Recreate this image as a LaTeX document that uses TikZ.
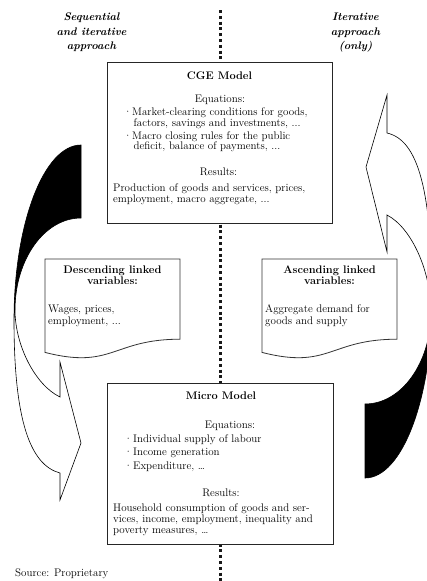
\documentclass[tikz,border=0pt]{standalone}
\begin{document}
\begin{tikzpicture}[x=1pt,y=-1pt,
  every node/.style={inner sep=0pt, font=\fontsize{11}{11}\selectfont},
  lt/.style={anchor=base west},
  ct/.style={anchor=base},
  ttl/.style={anchor=base, font=\fontsize{11}{11}\selectfont\bfseries},
  side/.style={anchor=base, font=\fontsize{11}{11}\selectfont\bfseries\itshape},
  bigbox/.style={draw=black!85, line width=1.1pt, fill=white, anchor=north west},
  arrowline/.style={draw=black, line width=0.6pt, fill=white, line join=miter},
  dotline/.style={line width=3pt, dash pattern=on 3pt off 2.8pt, black!90},
  docbox/.style={draw=black!80, line width=0.8pt, fill=white},
]
\useasboundingbox (0,0) rectangle (427,581);
\clip (0,0) rectangle (427,581);

% dotted divider
\coordinate (dtop) at (220,10);
\coordinate (dbot) at (220,584);
\draw[dotline] (dtop) -- (dbot);

% main boxes
\node[bigbox, minimum width=225pt, minimum height=161pt] (cge) at (107,62) {};
\node[bigbox, minimum width=226pt, minimum height=161pt] (micro) at (107,383) {};

% document boxes
\draw[docbox] (45,259) -- (180,259) -- (180,339.2)
  .. controls (112.5,339.2) and (112.5,369.7) .. (45,352.4) -- cycle;
\draw[docbox] (262,259) -- (397,259) -- (397,339.2)
  .. controls (329.5,339.2) and (329.5,369.7) .. (262,352.4) -- cycle;

% left curved arrow (down)
\path[arrowline] (81,145) .. controls (44,145) and (14,223.3) .. (14,320)
  .. controls (14,420) and (30,465) .. (60,473)
  -- (60,500) -- (81,443) -- (60,362) -- (60,397)
  .. controls (35,385) and (15,345) .. (15,310)
  .. controls (15,259.2) and (44.5,218) .. (81,218) -- cycle;
\fill[black] (81,145) .. controls (44,145) and (14,223.3) .. (14,320)
  -- (15,310) .. controls (15,259.2) and (44.5,218) .. (81,218) -- cycle;

% right curved arrow (up)
\path[arrowline] (365,404) -- (365,478)
  .. controls (402,478) and (432,399) .. (432,302)
  .. controls (432,190) and (418,140) .. (387,133)
  -- (387,95) -- (366,167) -- (387,252) -- (387,215)
  .. controls (412,228) and (431,272) .. (431,312)
  .. controls (431,362.8) and (401.5,404) .. (365,404) -- cycle;
\fill[black] (365,404) -- (365,478)
  .. controls (402,478) and (432,399) .. (432,302) -- (431,312)
  .. controls (431,362.8) and (401.5,404) .. (365,404) -- cycle;

% side titles
\node[side] (sl1) at (91.5,20.5) {Sequential};
\node[side] (sl2) at (91.5,35.5) {and iterative};
\node[side] (sl3) at (91.5,49.5) {approach};
\node[side] (sr1) at (355.5,20.5) {Iterative};
\node[side] (sr2) at (355.5,35.5) {approach};
\node[side] (sr3) at (355.5,49.5) {(only)};

% CGE box text
\node[ttl] (cget) at (219.5,79) {CGE Model};
\node[ct] (cgeeq) at (220,102) {Equations:};
\node[lt] (cgeb1) at (123.5,115.5) {\textperiodcentered};
\node[lt] (cgel1) at (132,115.5) {Market-clearing conditions for goods,};
\node[lt] (cgel2) at (133.5,126) {factors, savings and investments, ...};
\node[lt] (cgeb2) at (123.5,139.5) {\textperiodcentered};
\node[lt] (cgel3) at (132,139.5) {Macro closing rules for the public};
\node[lt] (cgel4) at (133.5,149.5) {deficit, balance of payments, ...};
\node[ct] (cgeres) at (218.5,175.5) {Results:};
\node[lt] (cgel5) at (113,191.5) {Production of goods and services, prices,};
\node[lt] (cgel6) at (113,202.5) {employment, macro aggregate, ...};

% document texts
\node[ttl] (dlt1) at (112.5,273) {Descending linked};
\node[ttl] (dlt2) at (112.5,284) {variables:};
\node[lt] (dl1) at (48,312.5) {Wages, prices,};
\node[lt] (dl2) at (48,324) {employment, ...};
\node[ttl] (alt1) at (329.5,273) {Ascending linked};
\node[ttl] (alt2) at (329.5,284) {variables:};
\node[lt] (al1) at (265,312.5) {Aggregate demand for};
\node[lt] (al2) at (265,324) {goods and supply};

% Micro box text
\node[ttl] (mt) at (221,399.5) {Micro Model};
\node[ct] (meq) at (230,428) {Equations:};
\node[lt] (mb1) at (124,442.5) {\textperiodcentered};
\node[lt] (ml1) at (133,442.5) {Individual supply of labour};
\node[lt] (mb2) at (124,455.5) {\textperiodcentered};
\node[lt] (ml2) at (133,455.5) {Income generation};
\node[lt] (mb3) at (124,469) {\textperiodcentered};
\node[lt] (ml3) at (133,469) {Expenditure, \dots};
\node[ct] (mres) at (221,496.5) {Results:};
\node[lt] (ml4) at (113,511) {Household consumption of goods and ser-};
\node[lt] (ml5) at (113,522) {vices, income, employment, inequality and};
\node[lt] (ml6) at (113,533.5) {poverty measures, \dots};

% source
\node[lt] (src) at (15,576.5) {Source: Proprietary};
\end{tikzpicture}
\end{document}
